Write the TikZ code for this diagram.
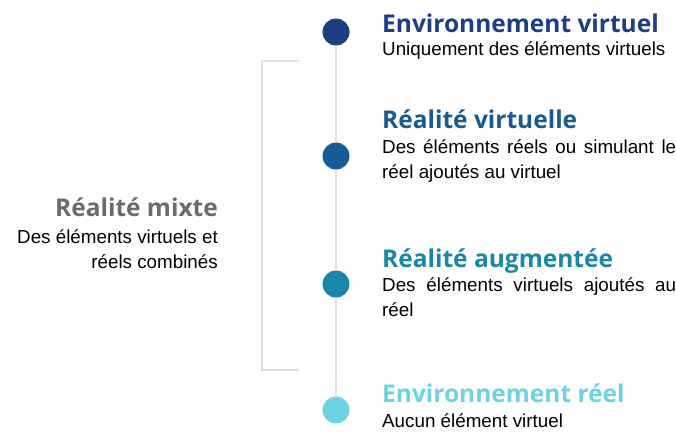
\documentclass[tikz,border=0pt]{standalone}
\usepackage{fontspec}
\setmainfont{Liberation Sans}
\newfontfamily\titlefont{Open Sans}[BoldFont={* Bold}]
\usepackage{xcolor}
\usetikzlibrary{positioning}

\definecolor{navy}{HTML}{1D3E85}
\definecolor{vrblue}{HTML}{175B93}
\definecolor{arblue}{HTML}{1A86A8}
\definecolor{skyblue}{HTML}{6DD3E3}
\definecolor{mixgray}{HTML}{6B6B6B}
\definecolor{linegray}{HTML}{E0E0E0}

\tikzset{
  dot/.style={circle, inner sep=0pt, minimum size=27pt},
  heading/.style={anchor=base west, inner sep=0pt, font=\titlefont\bfseries\fontsize{24.5}{29}\selectfont},
  desc/.style={anchor=base west, inner sep=0pt, text width=294pt, align=justify,
    font=\fontsize{18.8}{25.5}\selectfont},
  spine/.style={linegray, line width=1.5pt},
}

\begin{document}
\begin{tikzpicture}[x=1pt, y=-1pt]
    \useasboundingbox (0,0) rectangle (676,431);

    % timeline dots
    \node[dot, fill=navy]    at (336, 32)  (d1) {};
    \node[dot, fill=vrblue]  at (336, 156) (d2) {};
    \node[dot, fill=arblue]  at (336, 284) (d3) {};
    \node[dot, fill=skyblue] at (336, 410) (d4) {};

    \draw [spine] (d1) -- (d2);
    \draw [spine] (d2) -- (d3);
    \draw [spine] (d3) -- (d4);

    % bracket for mixed reality
    \coordinate (brtop) at (299, 61);
    \coordinate (brbot) at (299, 370);
    \draw [spine, line width=1.2pt] (brtop) -- ++(-37,0) |- (brbot);

    % headings
    \node[heading, navy]    at (382, 32)  (h1) {Environnement virtuel};
    \node[heading, vrblue]  at (382, 128) (h2) {Réalité virtuelle};
    \node[heading, arblue]  at (382, 267) (h3) {Réalité augmentée};
    \node[heading, skyblue] at (382, 402) (h4) {Environnement réel};

    % descriptions
    \node[desc] at (382, 55)  (t1) {Uniquement des éléments virtuels};
    \node[desc] at (382, 153) (t2) {Des éléments réels ou simulant le réel ajoutés au virtuel};
    \node[desc] at (382, 291) (t3) {Des éléments virtuels ajoutés au réel};
    \node[desc] at (382, 427) (t4) {Aucun élément virtuel};

    % mixed reality label
    \node[heading, anchor=base east, mixgray] at (218, 216) (hm) {Réalité mixte};
    \node[anchor=base east, inner sep=0pt, align=right, font=\fontsize{18.8}{25}\selectfont]
        at (218, 268) (tm) {Des éléments virtuels et\\réels combinés};
\end{tikzpicture}
\end{document}
